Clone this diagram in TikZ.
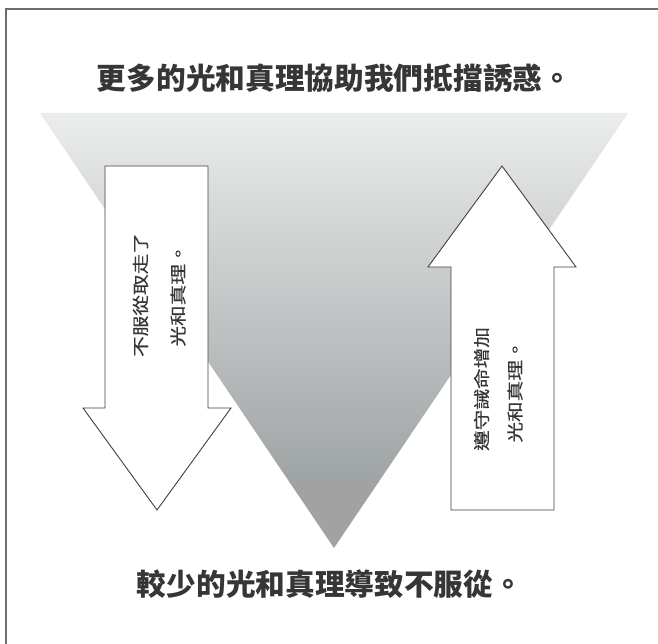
\documentclass[tikz,border=0pt]{standalone}
\usepackage{fontspec}
\newfontfamily\cjk{Noto Sans CJK TC}
\newfontfamily\cjkmid{Noto Sans CJK TC}[FakeBold=0.35]
\definecolor{framegray}{HTML}{6E6E6E}
\definecolor{tritop}{HTML}{EBECEC}
\definecolor{tribot}{HTML}{9EA3A3}
\definecolor{trilow}{HTML}{A2A2A2}
\definecolor{inkgray}{HTML}{363636}
\definecolor{linegray}{HTML}{404040}
\newcommand{\stretchtext}[1]{\scalebox{1.25}[1]{#1}}
\tikzset{
  titletext/.style={text=inkgray, inner sep=0pt, font=\cjk\bfseries\fontsize{29.7}{34}\selectfont},
  arrowtext/.style={text=inkgray, inner sep=0pt, rotate=90, font=\cjkmid\fontsize{16.5}{20}\selectfont},
  blockarrow/.style={draw=linegray, line width=0.9pt, fill=white, line join=miter},
}
\begin{document}
\begin{tikzpicture}[x=1pt, y=-1pt]
\useasboundingbox (0,0) rectangle (658,644);
\fill[white] (0,0) rectangle (658,644);
% frame (only top and left edges visible)
\draw[framegray, line width=2pt] (5.7,700) -- (5.7,9) -- (700,9);
% funnel triangle with gradient
\begin{scope}
  \clip (40,113) -- (628,113) -- (334,548) -- cycle;
  \shade[top color=tritop, bottom color=tribot] (30,113) rectangle (640,482);
  \fill[trilow] (30,482) rectangle (640,560);
\end{scope}
% left down arrow
\draw[blockarrow] (105,166) -- (208,166) -- (208,408) -- (231,408) -- (157,510)
  -- (83,408) -- (105,408) -- cycle;
% right up arrow
\draw[blockarrow] (502,166) -- (576,267) -- (554,267) -- (554,510) -- (451,510)
  -- (451,267) -- (428,267) -- cycle;
% titles
\node[titletext] (top) at (334.5,78) {更多的光和真理協助我們抵擋誘惑。};
\node[titletext] (bottom) at (330,584) {較少的光和真理導致不服從。};
% arrow texts
\node[arrowtext] (l1) at (140.5,295) {\stretchtext{不服從取走了}};
\node[arrowtext] (l2) at (178,295) {\stretchtext{光和真理。}};
\node[arrowtext] (r1) at (481.5,389) {\stretchtext{遵守誡命增加}};
\node[arrowtext] (r2) at (515,391) {\stretchtext{光和真理。}};
\end{tikzpicture}
\end{document}
